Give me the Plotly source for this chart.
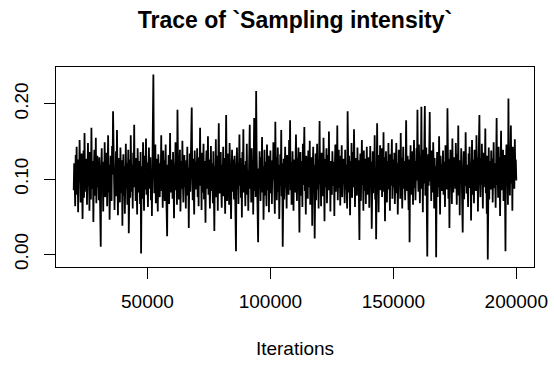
import plotly.graph_objects as go

iterations = list(range(20000, 200001, 200))

sampling_intensity = [
    0.085, 0.121, 0.097, 0.064, 0.132, 0.108, 0.143, 0.079, 0.115, 0.056, 0.126, 0.101, 0.152, 0.088, 0.069, 0.117, 0.134, 0.092, 0.047, 0.109, 0.138, 0.075, 0.161, 0.098, 0.119,
    0.083, 0.127, 0.066, 0.105, 0.148, 0.091, 0.114, 0.058, 0.136, 0.099, 0.073, 0.168, 0.102, 0.087, 0.124, 0.043, 0.111, 0.139, 0.078, 0.096, 0.155, 0.068, 0.118, 0.131, 0.089,
    0.107, 0.072, 0.129, 0.094, 0.061, 0.010, 0.116, 0.141, 0.085, 0.103, 0.057, 0.123, 0.097, 0.149, 0.076, 0.112, 0.088, 0.135, 0.064, 0.101, 0.158, 0.082, 0.119, 0.046, 0.109,
    0.131, 0.093, 0.071, 0.144, 0.106, 0.190, 0.122, 0.084, 0.059, 0.113, 0.096, 0.137, 0.077, 0.165, 0.104, 0.052, 0.128, 0.091, 0.116, 0.069, 0.142, 0.099, 0.081, 0.125, 0.038,
    0.102, 0.133, 0.078, 0.117, 0.054, 0.096, 0.147, 0.087, 0.121, 0.066, 0.109, 0.139, 0.028, 0.093, 0.126, 0.075, 0.158, 0.104, 0.083, 0.119, 0.061, 0.135, 0.097, 0.172, 0.089,
    0.114, 0.071, 0.128, 0.095, 0.053, 0.141, 0.106, 0.082, 0.124, 0.098, 0.067, 0.136, 0.001, 0.092, 0.117, 0.074, 0.149, 0.103, 0.058, 0.131, 0.086, 0.112, 0.154, 0.079, 0.122,
    0.095, 0.063, 0.118, 0.142, 0.087, 0.106, 0.129, 0.072, 0.113, 0.051, 0.137, 0.098, 0.239, 0.124, 0.081, 0.109, 0.146, 0.068, 0.101, 0.127, 0.089, 0.057, 0.133, 0.115, 0.092,
    0.076, 0.121, 0.104, 0.158, 0.084, 0.113, 0.062, 0.138, 0.097, 0.125, 0.071, 0.109, 0.146, 0.088, 0.055, 0.024, 0.119, 0.093, 0.132, 0.067, 0.107, 0.161, 0.082, 0.126, 0.099,
    0.111, 0.074, 0.136, 0.094, 0.048, 0.121, 0.103, 0.149, 0.085, 0.117, 0.066, 0.192, 0.128, 0.091, 0.073, 0.114, 0.139, 0.057, 0.102, 0.124, 0.087, 0.151, 0.096, 0.069, 0.118,
    0.132, 0.089, 0.107, 0.061, 0.125, 0.097, 0.143, 0.078, 0.115, 0.035, 0.101, 0.134, 0.083, 0.119, 0.162, 0.195, 0.108, 0.072, 0.127, 0.094, 0.053, 0.138, 0.112, 0.086, 0.123,
    0.098, 0.141, 0.076, 0.113, 0.064, 0.129, 0.105, 0.168, 0.091, 0.118, 0.059, 0.135, 0.082, 0.107, 0.147, 0.073, 0.124, 0.095, 0.042, 0.116, 0.138, 0.087, 0.102, 0.157, 0.079,
    0.126, 0.093, 0.061, 0.111, 0.144, 0.084, 0.121, 0.099, 0.068, 0.137, 0.104, 0.031, 0.117, 0.089, 0.153, 0.076, 0.109, 0.131, 0.058, 0.122, 0.174, 0.095, 0.081, 0.114, 0.136,
    0.087, 0.062, 0.119, 0.101, 0.143, 0.077, 0.128, 0.093, 0.054, 0.112, 0.185, 0.106, 0.071, 0.134, 0.097, 0.123, 0.066, 0.148, 0.089, 0.115, 0.047, 0.102, 0.139, 0.083, 0.126,
    0.108, 0.073, 0.131, 0.094, 0.056, 0.004, 0.117, 0.142, 0.086, 0.121, 0.067, 0.104, 0.159, 0.091, 0.128, 0.075, 0.113, 0.049, 0.136, 0.098, 0.166, 0.082, 0.119, 0.101, 0.064,
    0.124, 0.092, 0.147, 0.079, 0.111, 0.058, 0.133, 0.103, 0.172, 0.087, 0.118, 0.069, 0.141, 0.096, 0.125, 0.053, 0.109, 0.181, 0.084, 0.122, 0.076, 0.217, 0.134, 0.099, 0.062,
    0.016, 0.114, 0.088, 0.137, 0.105, 0.071, 0.129, 0.093, 0.156, 0.082, 0.117, 0.046, 0.102, 0.139, 0.078, 0.123, 0.097, 0.064, 0.146, 0.109, 0.085, 0.131, 0.056, 0.118, 0.094,
    0.138, 0.081, 0.112, 0.067, 0.125, 0.099, 0.149, 0.086, 0.116, 0.054, 0.176, 0.103, 0.129, 0.072, 0.095, 0.142, 0.083, 0.119, 0.047, 0.107, 0.133, 0.091, 0.165, 0.077, 0.121,
    0.010, 0.098, 0.127, 0.073, 0.114, 0.143, 0.088, 0.105, 0.061, 0.132, 0.096, 0.119, 0.079, 0.152, 0.101, 0.178, 0.085, 0.123, 0.066, 0.109, 0.137, 0.092, 0.058, 0.126, 0.104,
    0.082, 0.118, 0.159, 0.095, 0.071, 0.128, 0.106, 0.142, 0.087, 0.029, 0.113, 0.136, 0.078, 0.101, 0.124, 0.063, 0.147, 0.092, 0.115, 0.169, 0.084, 0.107, 0.053, 0.131, 0.097,
    0.121, 0.074, 0.138, 0.102, 0.089, 0.151, 0.066, 0.116, 0.094, 0.129, 0.038, 0.108, 0.143, 0.081, 0.119, 0.021, 0.099, 0.134, 0.072, 0.112, 0.147, 0.086, 0.125, 0.061, 0.103,
    0.177, 0.093, 0.118, 0.064, 0.135, 0.098, 0.122, 0.077, 0.155, 0.104, 0.044, 0.127, 0.089, 0.113, 0.141, 0.068, 0.109, 0.132, 0.085, 0.163, 0.096, 0.119, 0.057, 0.124, 0.101,
    0.079, 0.137, 0.106, 0.091, 0.123, 0.051, 0.114, 0.146, 0.083, 0.128, 0.097, 0.171, 0.072, 0.109, 0.139, 0.088, 0.118, 0.065, 0.131, 0.102, 0.145, 0.076, 0.112, 0.093, 0.127,
    0.104, 0.068, 0.139, 0.086, 0.119, 0.097, 0.061, 0.190, 0.115, 0.082, 0.131, 0.107, 0.052, 0.124, 0.093, 0.148, 0.075, 0.111, 0.136, 0.089, 0.166, 0.101, 0.063, 0.128, 0.095,
    0.117, 0.078, 0.142, 0.099, 0.125, 0.087, 0.019, 0.113, 0.134, 0.071, 0.106, 0.152, 0.092, 0.121, 0.058, 0.138, 0.084, 0.109, 0.127, 0.067, 0.101, 0.143, 0.079, 0.116, 0.096,
    0.129, 0.062, 0.111, 0.144, 0.088, 0.123, 0.034, 0.102, 0.137, 0.081, 0.119, 0.095, 0.158, 0.073, 0.108, 0.020, 0.126, 0.174, 0.091, 0.114, 0.056, 0.132, 0.098, 0.145, 0.085,
    0.107, 0.141, 0.076, 0.118, 0.093, 0.162, 0.083, 0.129, 0.044, 0.111, 0.137, 0.097, 0.069, 0.124, 0.102, 0.148, 0.086, 0.115, 0.058, 0.133, 0.091, 0.119, 0.153, 0.074, 0.108,
    0.126, 0.089, 0.135, 0.067, 0.113, 0.098, 0.148, 0.081, 0.121, 0.053, 0.104, 0.139, 0.092, 0.117, 0.074, 0.161, 0.095, 0.128, 0.061, 0.109, 0.143, 0.087, 0.124, 0.099, 0.072,
    0.118, 0.178, 0.103, 0.084, 0.131, 0.097, 0.059, 0.126, 0.016, 0.111, 0.145, 0.079, 0.121, 0.093, 0.137, 0.066, 0.108, 0.152, 0.088, 0.124, 0.072, 0.114, 0.141, 0.098, 0.192,
    0.109, 0.083, 0.146, 0.122, 0.068, 0.131, 0.101, 0.196, 0.087, 0.118, 0.056, 0.139, 0.094, 0.127, 0.197, 0.078, 0.113, 0.142, 0.064, -0.003, 0.105, 0.133, 0.091, 0.119, 0.189,
    0.097, 0.124, 0.071, 0.138, 0.106, 0.082, 0.149, 0.115, 0.061, 0.128, 0.093, 0.117, -0.004, 0.102, 0.136, 0.076, 0.121, 0.089, 0.157, 0.108, 0.053, 0.131, 0.096, 0.119, 0.084,
    0.114, 0.138, 0.079, 0.123, 0.098, 0.063, 0.145, 0.107, 0.131, 0.086, 0.194, 0.112, 0.074, 0.127, 0.035, 0.101, 0.139, 0.091, 0.118, 0.067, 0.154, 0.103, 0.082, 0.129, 0.096,
    0.122, 0.087, 0.148, 0.109, 0.066, 0.133, 0.094, 0.171, 0.078, 0.116, 0.052, 0.125, 0.099, 0.141, 0.083, 0.112, 0.029, 0.106, 0.137, 0.073, 0.128, 0.091, 0.162, 0.104, 0.081,
    0.119, 0.095, 0.063, 0.134, 0.107, 0.143, 0.088, 0.121, 0.045, 0.111, 0.152, 0.079, 0.126, 0.098, 0.068, 0.139, 0.103, 0.117, 0.084, 0.158, 0.092, 0.129, 0.057, 0.113, 0.136,
    0.185, 0.102, 0.076, 0.128, 0.093, 0.147, 0.114, 0.061, 0.135, 0.089, 0.122, 0.105, 0.167, 0.081, 0.118, 0.054, 0.131, -0.007, 0.097, 0.142, 0.073, 0.124, 0.109, 0.086, 0.138,
    0.096, 0.127, 0.069, 0.113, 0.149, 0.088, 0.121, 0.104, 0.062, 0.136, 0.181, 0.092, 0.117, 0.075, 0.143, 0.101, 0.129, 0.051, 0.111, 0.164, 0.085, 0.125, 0.098, 0.139, 0.071,
    0.108, 0.132, 0.083, 0.004, 0.119, 0.146, 0.091, 0.124, 0.066, 0.207, 0.103, 0.137, 0.078, 0.115, 0.171, 0.094, 0.128, 0.058, 0.143, 0.101, 0.119, 0.087, 0.153, 0.109, 0.126,
    0.098,
]

x_ticks = [50000, 100000, 150000, 200000]
y_ticks = [0.00, 0.10, 0.20]
y_tick_labels = ["0.00", "0.10", "0.20"]

title_text = "Trace of `Sampling intensity`"
x_title = "Iterations"

font_family = "Liberation Sans, Arial, Helvetica, sans-serif"

fig = go.Figure()
fig.add_trace(go.Scatter(
    x=iterations, y=sampling_intensity, mode="lines",
    line=dict(color="black", width=1.8), hoverinfo="skip", showlegend=False,
))

xmin, xmax = min(iterations), max(iterations)
ymin, ymax = min(sampling_intensity), max(sampling_intensity)
xpad = 0.04 * (xmax - xmin)
ypad = 0.04 * (ymax - ymin)

fig.update_layout(
    width=554, height=365,
    margin=dict(l=56, r=20, t=67, b=98),
    paper_bgcolor="white", plot_bgcolor="white",
    font=dict(family=font_family, size=19, color="black"),
    title=dict(text="<b>" + title_text + "</b>", x=0.5325, xanchor="center",
               y=1 - 20 / 365, yanchor="middle", font=dict(size=23)),
    xaxis=dict(
        range=[xmin - xpad, xmax + xpad], tickvals=x_ticks,
        ticktext=[str(v) for v in x_ticks],
        showline=True, linecolor="black", linewidth=1, mirror=True,
        ticks="outside", ticklen=11, tickcolor="black", tickwidth=1,
        showgrid=False, zeroline=False, ticklabelstandoff=6, automargin=False,
        title=dict(text=x_title, standoff=30, font=dict(size=19)),
    ),
    yaxis=dict(
        range=[ymin - ypad, ymax + ypad], tickvals=y_ticks, ticktext=y_tick_labels,
        tickangle=-90, automargin=False,
        showline=True, linecolor="black", linewidth=1, mirror=True,
        ticks="outside", ticklen=11, tickcolor="black", tickwidth=1,
        showgrid=False, zeroline=False, ticklabelstandoff=8,
    ),
)

fig.write_html("out.html")
